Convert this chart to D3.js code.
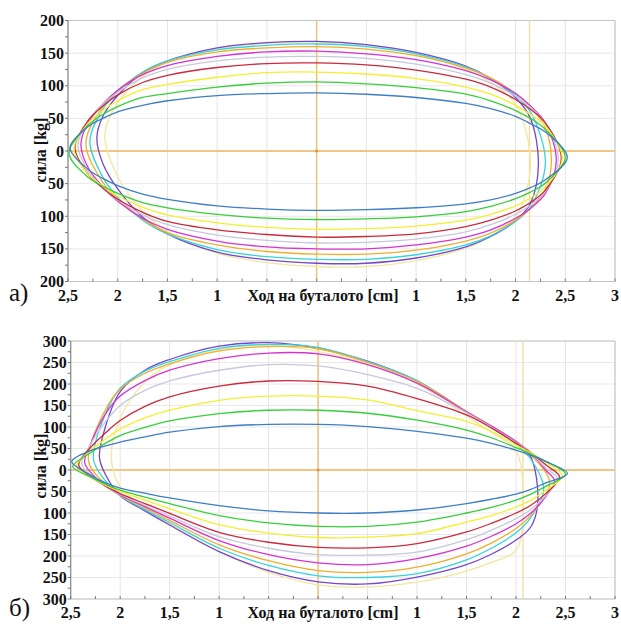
<!DOCTYPE html>
<html>
<head>
<meta charset="utf-8">
<script src="https://cdn.jsdelivr.net/npm/d3@7"></script>
<style>html,body{margin:0;background:#fff}</style>
</head>
<body>
<svg id="chart" width="621" height="624" font-family="Liberation Serif"></svg>
<script>
// Piston stroke positions (cm) at which each loop branch is sampled
const stations = [-2.3, -2.15, -2.0, -1.75, -1.5, -1.0, -0.5, 0, 0.5, 1.0, 1.5, 1.75, 2.0, 2.15, 2.3];

// One colour per test run (same order in both panels)
const loopColors = ["#3d7ec6", "#36cf3a", "#f3ef30", "#c92a3c", "#c6c8dc",
                    "#d532cf", "#f0ae2e", "#36d4dc", "#7347cf", "#f2e6a0"];

// ---- Panel а) : force (kg) on the upper / lower branch at each station ----
const upperA = [
  [37, 50, 60, 70, 77, 85, 88, 89, 87, 82, 73, 65, 53, 42, 29],
  [39, 56, 68, 82, 88, 98, 104, 106, 103, 97, 87, 77, 62, 50, 33],
  [42, 62, 77, 94, 102, 113, 120, 121, 118, 111, 98, 87, 70, 56, 38],
  [46, 69, 86, 105, 116, 128, 134, 135, 132, 124, 110, 98, 79, 64, 43],
  [46, 72, 90, 112, 125, 138, 144, 145, 142, 133, 117, 104, 84, 67, 42],
  [43, 72, 93, 117, 131, 145, 152, 153, 149, 140, 123, 109, 88, 69, 43],
  [null, 68, 93, 119, 136, 152, 158, 160, 156, 146, 127, 112, 88, 68, 35],
  [null, 64, 91, 121, 138, 155, 162, 164, 160, 149, 129, 111, 85, 60, null],
  [null, 53, 85, 120, 138, 158, 166, 168, 163, 151, 130, 111, 82, 50, null],
  [null, null, 74, 114, 136, 157, 165, 167, 162, 149, 125, 105, 71, null, null]
];
const lowerA = [
  [-28, -42, -53, -66, -74, -84, -89, -91, -90, -87, -81, -75, -65, -56, -44],
  [-40, -54, -65, -79, -87, -97, -103, -105, -104, -101, -93, -85, -73, -63, -49],
  [-35, -54, -69, -86, -98, -110, -117, -120, -119, -115, -106, -97, -84, -72, -55],
  [-35, -57, -74, -94, -108, -121, -128, -132, -131, -127, -116, -106, -92, -79, -60],
  [-30, -56, -75, -98, -113, -129, -137, -141, -140, -135, -124, -113, -97, -83, -62],
  [-25, -55, -77, -103, -120, -138, -147, -150, -150, -144, -132, -121, -103, -88, -65],
  [null, -48, -74, -104, -125, -144, -154, -158, -158, -152, -138, -126, -106, -88, -59],
  [null, -40, -71, -106, -127, -151, -162, -166, -166, -159, -144, -130, -108, -86, null],
  [null, -19, -58, -101, -127, -155, -167, -172, -172, -164, -147, -131, -107, -80, null],
  [null, null, -39, -92, -124, -157, -171, -177, -177, -168, -149, -131, -101, null, null]
];
// Turning points [stroke, force] at the two ends of each loop
const leftTipA = [[-2.48, 5], [-2.49, -3], [-2.44, 3], [-2.43, 5], [-2.40, 8],
                  [-2.37, 10], [-2.32, 12], [-2.28, 15], [-2.21, 20], [-2.13, 25]];
const rightTipA = [[2.52, -10], [2.50, -10], [2.47, -12], [2.46, -12], [2.43, -14],
                   [2.41, -15], [2.36, -16], [2.30, -18], [2.23, -20], [2.15, -20]];

// ---- Panel б) ----
const upperB = [
  [45, 56, 65, 77, 88, 101, 106, 106, 101, 90, 74, 62, 46, 34, 20],
  [40, 62, 80, 99, 114, 131, 139, 139, 132, 116, 93, 75, 52, 37, 20],
  [45, 72, 95, 121, 139, 162, 172, 172, 163, 138, 113, 90, 58, 40, 18],
  [52, 86, 115, 148, 170, 195, 207, 206, 195, 166, 128, 98, 62, 40, 12],
  [60, 112, 150, 185, 207, 232, 245, 242, 222, 190, 133, 100, 64, 40, 5],
  [60, 130, 172, 208, 232, 259, 272, 270, 245, 202, 135, 102, 66, 40, 0],
  [null, 140, 188, 225, 247, 277, 287, 282, 250, 206, 136, 102, 66, 35, null],
  [null, 130, 190, 230, 252, 283, 292, 285, 252, 208, 135, 100, 60, 25, null],
  [null, 100, 182, 232, 257, 288, 296, 283, 253, 207, 136, 102, 66, 30, null],
  [null, null, 120, 205, 245, 280, 290, 276, 246, 200, 125, 88, 45, null, null]
];
const lowerB = [
  [-12, -30, -42, -54, -65, -83, -95, -100, -100, -93, -78, -68, -56, -45, -30],
  [-16, -33, -47, -63, -78, -106, -123, -131, -131, -121, -100, -87, -70, -56, -38],
  [-17, -35, -50, -70, -90, -127, -147, -157, -156, -148, -121, -106, -86, -70, -47],
  [-15, -37, -55, -78, -101, -145, -168, -180, -181, -171, -144, -124, -100, -82, -55],
  [-12, -38, -57, -82, -107, -155, -182, -197, -198, -191, -162, -140, -113, -92, -60],
  [-5, -37, -58, -85, -112, -164, -197, -216, -220, -206, -177, -154, -125, -100, -62],
  [null, -33, -59, -88, -117, -174, -211, -234, -238, -226, -195, -170, -136, -105, null],
  [null, -25, -60, -92, -122, -182, -222, -246, -250, -241, -209, -182, -146, -110, null],
  [null, -10, -60, -95, -128, -190, -234, -260, -265, -249, -220, -196, -163, -132, null],
  [null, null, -40, -90, -125, -190, -238, -267, -272, -261, -235, -215, -187, null, null]
];
const leftTipB = [[-2.49, 20], [-2.48, 8], [-2.44, 10], [-2.42, 12], [-2.39, 15],
                  [-2.36, 18], [-2.32, 22], [-2.27, 25], [-2.21, 30], [-2.09, 30]];
const rightTipB = [[2.52, -8], [2.50, -10], [2.47, -14], [2.44, -16], [2.42, -20],
                   [2.39, -25], [2.34, -30], [2.28, -45], [2.22, -75], [2.07, -80]];

// Axis tick values
const xTickLabels = [-2.5, -2, -1.5, -1, 1, 1.5, 2, 2.5, 3];
const yTicksA = [-200, -150, -100, -50, 0, 50, 100, 150, 200];
const yTicksB = [-300, -250, -200, -150, -100, -50, 0, 50, 100, 150, 200, 250, 300];

// Cursor position (cm) marked on each panel
const cursorA = 2.14;
const cursorB = 2.07;

const svg = d3.select("#chart");

function loopPoints(i, upper, lower, leftTip, rightTip) {
  const pts = [leftTip[i]];
  stations.forEach((s, k) => { if (upper[i][k] !== null) pts.push([s, upper[i][k]]); });
  pts.push(rightTip[i]);
  for (let k = stations.length - 1; k >= 0; k--) {
    if (lower[i][k] !== null) pts.push([stations[k], lower[i][k]]);
  }
  return pts;
}

function label(sel, size, bold) {
  return sel
    .style("font-family", '"Liberation Serif"')
    .style("font-size", size + "px")
    .style("font-weight", bold ? "bold" : "normal")
    .attr("fill", "#111");
}

function drawPanel(cfg) {
  const g = svg.append("g");
  const x = d3.scaleLinear().domain([-2.5, 3]).range([cfg.left, cfg.right]);
  const y = d3.scaleLinear().domain([-cfg.yMax, cfg.yMax]).range([cfg.bottom, cfg.top]);

  // grid
  const gridX = d3.range(-2.5, 3.01, 0.5);
  g.selectAll(null).data(gridX).join("line")
    .attr("x1", d => x(d)).attr("x2", d => x(d))
    .attr("y1", cfg.top).attr("y2", cfg.bottom)
    .attr("stroke", "#e4e4e4").attr("stroke-width", 1);
  g.selectAll(null).data(cfg.yTicks).join("line")
    .attr("x1", cfg.left).attr("x2", cfg.right)
    .attr("y1", d => y(d)).attr("y2", d => y(d))
    .attr("stroke", "#e8e8e8").attr("stroke-width", 1);

  // frame (top, right, bottom)
  g.append("path")
    .attr("d", `M${cfg.left},${cfg.top}H${cfg.right}V${cfg.bottom}H${cfg.left}`)
    .attr("fill", "none").attr("stroke", "#c4c4c4").attr("stroke-width", 1);

  // zero line, centre line and cursor
  g.append("line").attr("x1", cfg.left).attr("x2", cfg.right)
    .attr("y1", y(0)).attr("y2", y(0))
    .attr("stroke", "#f0c586").attr("stroke-width", 2);
  g.append("line").attr("x1", x(0)).attr("x2", x(0))
    .attr("y1", cfg.top).attr("y2", cfg.bottom)
    .attr("stroke", "#efc27a").attr("stroke-width", 1.5);
  g.append("line").attr("x1", x(cfg.cursor)).attr("x2", x(cfg.cursor))
    .attr("y1", cfg.top).attr("y2", cfg.bottom)
    .attr("stroke", "#f1dca6").attr("stroke-width", 1.3);
  g.append("circle").attr("cx", x(0)).attr("cy", y(0)).attr("r", 1.5)
    .attr("fill", "#d9953a");

  // loops
  const line = d3.line()
    .x(d => x(d[0])).y(d => y(d[1]))
    .curve(d3.curveCatmullRomClosed.alpha(0.5));
  for (let i = loopColors.length - 1; i >= 0; i--) {
    g.append("path")
      .attr("d", line(loopPoints(i, cfg.upper, cfg.lower, cfg.leftTip, cfg.rightTip)))
      .attr("fill", "none")
      .attr("stroke", loopColors[i])
      .attr("stroke-width", 1.3);
  }

  // left axis with minor ticks, bottom minor ticks
  g.append("line").attr("x1", cfg.left).attr("x2", cfg.left)
    .attr("y1", cfg.top).attr("y2", cfg.bottom)
    .attr("stroke", "#8a8a8a").attr("stroke-width", 1.2);
  const minorY = d3.range(-cfg.yMax, cfg.yMax + 1, 25);
  g.selectAll(null).data(minorY).join("line")
    .attr("x1", cfg.left - 3).attr("x2", cfg.left)
    .attr("y1", d => y(d)).attr("y2", d => y(d))
    .attr("stroke", "#777").attr("stroke-width", 1);
  const minorX = d3.range(-2.5, 3.01, 0.25);
  g.selectAll(null).data(minorX).join("line")
    .attr("x1", d => x(d)).attr("x2", d => x(d))
    .attr("y1", cfg.bottom - 3).attr("y2", cfg.bottom)
    .attr("stroke", "#777").attr("stroke-width", 1);

  // tick labels
  label(g.selectAll(null).data(cfg.yTicks).join("text"), 16, true)
    .attr("x", cfg.left - 4).attr("y", d => y(d) + 5.5)
    .attr("text-anchor", "end")
    .text(d => String(Math.abs(d)));
  label(g.selectAll(null).data(xTickLabels).join("text"), 16, true)
    .attr("x", d => x(d)).attr("y", cfg.bottom + 19)
    .attr("text-anchor", "middle")
    .text(d => String(Math.abs(d)).replace(".", ","));

  // axis titles
  label(g.append("text"), 16, true)
    .attr("x", 323).attr("y", cfg.bottom + 19)
    .attr("text-anchor", "middle")
    .text("Ход на буталото [cm]");
  label(g.append("text"), 16, true)
    .attr("transform", `translate(46,${cfg.yTitle}) rotate(-90)`)
    .attr("text-anchor", "middle")
    .text("сила [kg]");

  // panel tag
  label(g.append("text"), 25, false)
    .attr("x", 9).attr("y", cfg.tagY)
    .text(cfg.tag);
}

drawPanel({
  left: 68, right: 615, top: 20.5, bottom: 281.5, yMax: 200, yTicks: yTicksA,
  upper: upperA, lower: lowerA, leftTip: leftTipA, rightTip: rightTipA,
  cursor: cursorA, yTitle: 150, tag: "а)", tagY: 301
});
drawPanel({
  left: 70.7, right: 615, top: 341, bottom: 599, yMax: 300, yTicks: yTicksB,
  upper: upperB, lower: lowerB, leftTip: leftTipB, rightTip: rightTipB,
  cursor: cursorB, yTitle: 466, tag: "б)", tagY: 616
});
</script>
</body>
</html>
